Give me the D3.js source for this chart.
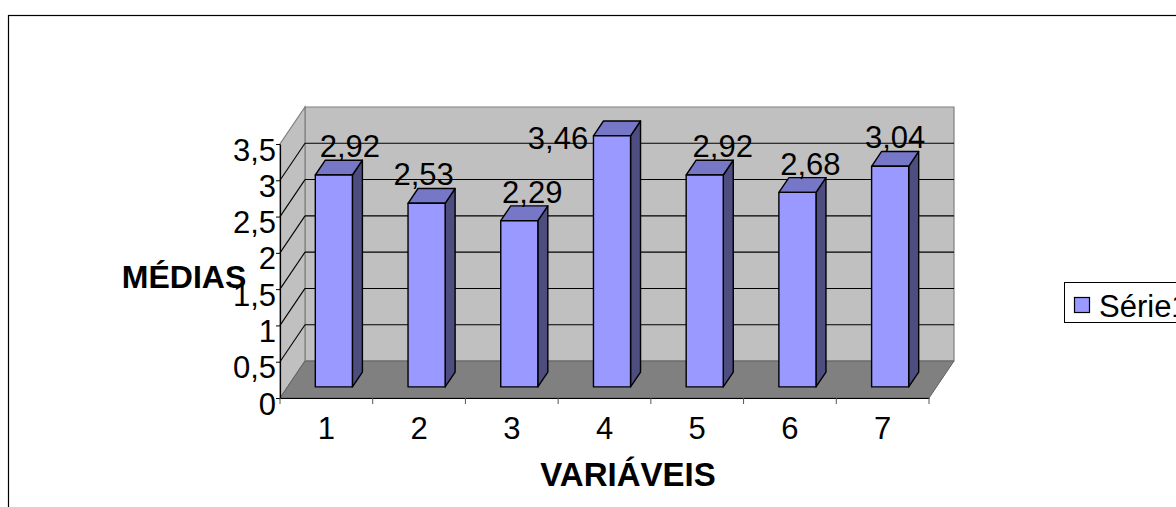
<!DOCTYPE html>
<html>
<head>
<meta charset="utf-8">
<script src="https://cdn.jsdelivr.net/npm/d3@7"></script>
<style>
  html, body { margin: 0; padding: 0; background: #fff; }
  svg { display: block; font-family: "Liberation Sans", Arial, sans-serif; }
</style>
</head>
<body>
<svg id="chart" width="1176" height="507"></svg>
<script>
// Chart data
const categories = ["1", "2", "3", "4", "5", "6", "7"];
const medias = [2.92, 2.53, 2.29, 3.46, 2.92, 2.68, 3.04];
const yTickValues = [0, 0.5, 1, 1.5, 2, 2.5, 3, 3.5];
const seriesName = "Série1";
const xTitle = "VARIÁVEIS";
const yTitle = "MÉDIAS";

// Small hand nudges for value labels (pixels), like the placement a spreadsheet picks
const labelShiftX = [6, -13, 3, -64, 8, 3, -5];
const labelShiftY = [0, 0, 0, 31, 0, 0, 0];

const ptBR = d3.formatLocale({ decimal: ",", thousands: ".", grouping: [3], currency: ["R$", ""] });
const fmtValue = ptBR.format(".2f");
const fmtTick = v => String(v).replace(".", ",");

const svg = d3.select("#chart");
const numSize = 31;

// Plot geometry: front plane and depth offset of the 3D box
const plotLeft = 280, plotRight = 929, plotBottom = 398, plotTop = 144;
const depthX = 25, depthY = -37;
const barFront = 0.3, barBack = 0.7;

const y = d3.scaleLinear().domain([0, 3.5]).range([plotBottom, plotTop]);
const xCat = d3.scaleBand().domain(categories).range([plotLeft, plotRight]).padding(0);
const xBar = d3.scaleBand().domain(categories).range([plotLeft, plotRight]).paddingInner(0.6).paddingOuter(0.3);

// project a point (x on front plane, value, depth fraction) to the screen
const P = (x, v, f) => [x + f * depthX, y(v) + f * depthY];
const poly = pts => "M" + pts.map(p => p.join(",")).join("L") + "Z";

// Chart area border
svg.append("rect")
  .attr("x", 8.5).attr("y", 15.5).attr("width", 1300).attr("height", 600)
  .attr("fill", "#fff").attr("stroke", "#000").attr("stroke-width", 1.2);

const yMax = y.domain()[1];

// Back wall
svg.append("path")
  .attr("d", poly([P(plotLeft, 0, 1), P(plotRight, 0, 1), P(plotRight, yMax, 1), P(plotLeft, yMax, 1)]))
  .attr("fill", "#c0c0c0").attr("stroke", "#808080").attr("stroke-width", 1.2);

// Side wall
svg.append("path")
  .attr("d", poly([P(plotLeft, 0, 0), P(plotLeft, 0, 1), P(plotLeft, yMax, 1), P(plotLeft, yMax, 0)]))
  .attr("fill", "#c0c0c0").attr("stroke", "#808080").attr("stroke-width", 1.2);

// Floor
svg.append("path")
  .attr("d", poly([P(plotLeft, 0, 0), P(plotRight, 0, 0), P(plotRight, 0, 1), P(plotLeft, 0, 1)]))
  .attr("fill", "#808080").attr("stroke", "#606060").attr("stroke-width", 1);

// Gridlines on back and side walls
const gridVals = yTickValues.filter(v => v > 0 && v < yMax);
const grid = svg.append("g").attr("stroke", "#000").attr("stroke-width", 1.1).attr("fill", "none");
gridVals.forEach(v => {
  grid.append("path").attr("d", "M" + P(plotLeft, v, 1).join(",") + "L" + P(plotRight, v, 1).join(","));
  grid.append("path").attr("d", "M" + P(plotLeft, v, 0).join(",") + "L" + P(plotLeft, v, 1).join(","));
});

// Bars
const bw = xBar.bandwidth();
const bars = svg.append("g").attr("stroke", "#000").attr("stroke-width", 1.4).attr("stroke-linejoin", "round");
categories.forEach((c, i) => {
  const v = medias[i];
  const xl = xBar(c), xr = xl + bw;
  const g = bars.append("g");
  g.append("path")
    .attr("d", poly([P(xr, 0, barFront), P(xr, 0, barBack), P(xr, v, barBack), P(xr, v, barFront)]))
    .attr("fill", "#4d4d80");
  g.append("path")
    .attr("d", poly([P(xl, v, barFront), P(xr, v, barFront), P(xr, v, barBack), P(xl, v, barBack)]))
    .attr("fill", "#7777c8");
  g.append("path")
    .attr("d", poly([P(xl, 0, barFront), P(xr, 0, barFront), P(xr, v, barFront), P(xl, v, barFront)]))
    .attr("fill", "#9999ff");
});

// Value labels
svg.append("g").selectAll("text").data(medias).join("text")
  .attr("x", (v, i) => P(xBar(categories[i]) + bw / 2, v, barBack)[0] + labelShiftX[i])
  .attr("y", (v, i) => P(xBar(categories[i]) + bw / 2, v, barBack)[1] - 3 + labelShiftY[i])
  .attr("text-anchor", "middle")
  .attr("font-size", numSize)
  .attr("fill", "#000")
  .text(v => fmtValue(v));

// Y axis
const yAxis = svg.append("g")
  .attr("transform", `translate(${plotLeft},0)`)
  .call(d3.axisLeft(y).tickValues(yTickValues).tickFormat(fmtTick).tickSize(4).tickSizeOuter(0).tickPadding(0));
yAxis.select(".domain").attr("stroke", "#000").attr("stroke-width", 1.2);
yAxis.selectAll(".tick line").attr("stroke", "#000");
yAxis.selectAll(".tick text")
  .attr("font-size", numSize).attr("font-family", "Liberation Sans, Arial, sans-serif")
  .attr("fill", "#000").attr("dy", "0.52em");

// X axis: ticks on category boundaries, labels centred in each category
const xAxis = svg.append("g")
  .attr("transform", `translate(0,${plotBottom})`)
  .call(d3.axisBottom(xCat).tickSize(0).tickPadding(19));
xAxis.select(".domain").attr("stroke", "#000").attr("stroke-width", 1.2);
xAxis.selectAll(".tick text")
  .attr("font-size", numSize).attr("font-family", "Liberation Sans, Arial, sans-serif")
  .attr("fill", "#000").attr("dy", "0.71em");
const bounds = categories.map(c => xCat(c)).concat([plotRight]);
svg.append("g").selectAll("line").data(bounds).join("line")
  .attr("x1", d => d).attr("x2", d => d)
  .attr("y1", plotBottom).attr("y2", plotBottom + 6)
  .attr("stroke", "#555").attr("stroke-width", 1);

// Axis titles
svg.append("text")
  .attr("x", 628).attr("y", 486)
  .attr("text-anchor", "middle").attr("font-size", 33).attr("font-weight", "bold")
  .text(xTitle);
svg.append("text")
  .attr("x", 184).attr("y", 288)
  .attr("text-anchor", "middle").attr("font-size", 32).attr("font-weight", "bold")
  .text(yTitle);

// Legend
const legend = svg.append("g").attr("transform", "translate(1064,282)");
legend.append("rect")
  .attr("x", 0.5).attr("y", 0.5).attr("width", 200).attr("height", 40)
  .attr("fill", "#fff").attr("stroke", "#000").attr("stroke-width", 1);
legend.append("rect")
  .attr("x", 10.5).attr("y", 15.5).attr("width", 15).attr("height", 15)
  .attr("fill", "#9999ff").attr("stroke", "#000").attr("stroke-width", 1.2);
legend.append("text")
  .attr("x", 35).attr("y", 35)
  .attr("font-size", numSize).attr("fill", "#000")
  .text(seriesName);
</script>
</body>
</html>
